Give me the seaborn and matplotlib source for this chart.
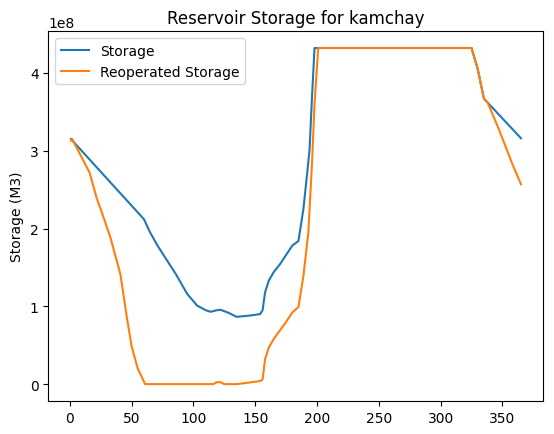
import numpy as np
import pandas as pd
import matplotlib
matplotlib.use('Agg')
import matplotlib.pyplot as plt
import seaborn as sns

# values (storage in units of 1e8 m3)
storage_day = [1, 60, 65, 71, 86, 95, 103, 110, 114, 119, 122, 128, 135, 145, 154,
               156, 158, 161, 165, 170, 175, 180, 185, 189, 192, 194, 196, 198,
               325, 330, 335, 365]
storage_val = [3.15, 2.12, 1.95, 1.78, 1.41, 1.16, 1.01, 0.95, 0.93, 0.95, 0.955, 0.92,
               0.865, 0.88, 0.90, 0.95, 1.18, 1.33, 1.44, 1.54, 1.66, 1.78, 1.84, 2.25,
               2.70, 3.02, 3.70, 4.32, 4.32, 4.05, 3.67, 3.16]

reop_day = [1, 2, 16, 22, 25, 33, 41, 46, 50, 55, 61, 116, 119, 122, 125, 135, 145,
            154, 156, 158, 161, 165, 170, 175, 180, 185, 189, 193, 196, 198, 201,
            325, 330, 335, 338, 347, 358, 365]
reop_val = [3.13, 3.15, 2.72, 2.38, 2.25, 1.88, 1.41, 0.88, 0.49, 0.20, 0.0, 0.0,
            0.025, 0.025, 0.0, 0.0, 0.02, 0.04, 0.06, 0.32, 0.47, 0.58, 0.69, 0.80,
            0.92, 0.99, 1.39, 1.95, 2.85, 3.60, 4.32, 4.32, 4.05, 3.67, 3.62, 3.28,
            2.83, 2.57]

df_storage = pd.DataFrame({'day': storage_day,
                           'storage': np.array(storage_val) * 1e8})
df_reop = pd.DataFrame({'day': reop_day,
                        'storage': np.array(reop_val) * 1e8})

fig, ax = plt.subplots(figsize=(5.54, 4.35), dpi=100)
fig.subplots_adjust(left=0.0875, right=0.981, top=0.926, bottom=0.076)

sns.lineplot(data=df_storage, x='day', y='storage', ax=ax,
             color='#1f77b4', label='Storage')
sns.lineplot(data=df_reop, x='day', y='storage', ax=ax,
             color='#ff7f0e', label='Reoperated Storage')

ax.set_title('Reservoir Storage for kamchay')
ax.set_xlabel('')
ax.set_ylabel('Storage (M3)')
ax.legend(loc='upper left')

plt.savefig('out.png', dpi=100)
